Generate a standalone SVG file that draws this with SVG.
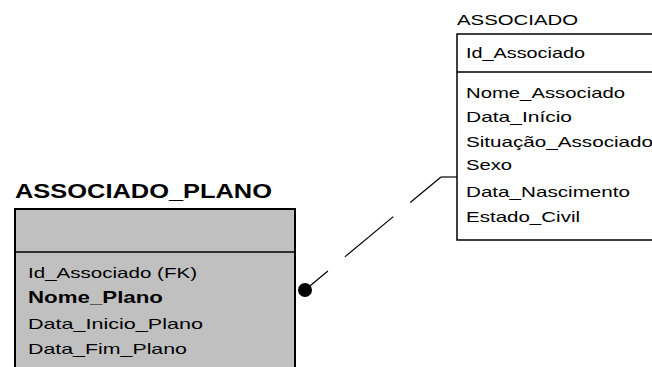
<svg xmlns="http://www.w3.org/2000/svg" width="652" height="367" viewBox="0 0 652 367">
<style>
text{font-family:"Liberation Sans",Arial,sans-serif;fill:#000}
.r{font-size:15px}
.t{font-size:14px}
.b{font-weight:bold}
.box{stroke:#000;stroke-width:1.5}
</style>
<rect width="652" height="367" fill="#fff"/>
<g id="connectors">
<path d="M441,177 L305,290" fill="none" stroke="#000" stroke-width="1.2" stroke-dasharray="40 22 63 22 60"/>
<path d="M441,177 L457,177" fill="none" stroke="#000" stroke-width="1.2"/>
<circle cx="305" cy="290" r="7" fill="#000"/>
</g>
<g id="associado">
<text class="t" x="457" y="25" textLength="121" lengthAdjust="spacingAndGlyphs">ASSOCIADO</text>
<rect class="box" x="457" y="34" width="205" height="206" fill="#fff"/>
<line class="box" x1="457" y1="72" x2="652" y2="72"/>
<text class="r" x="466" y="58" textLength="119" lengthAdjust="spacingAndGlyphs">Id_Associado</text>
<text class="r" x="466" y="98" textLength="159" lengthAdjust="spacingAndGlyphs">Nome_Associado</text>
<text class="r" x="466" y="122" textLength="106" lengthAdjust="spacingAndGlyphs">Data_Início</text>
<text class="r" x="466" y="147" textLength="187" lengthAdjust="spacingAndGlyphs">Situação_Associado</text>
<text class="r" x="466" y="170" textLength="46" lengthAdjust="spacingAndGlyphs">Sexo</text>
<text class="r" x="466" y="197" textLength="164" lengthAdjust="spacingAndGlyphs">Data_Nascimento</text>
<text class="r" x="466" y="222" textLength="114" lengthAdjust="spacingAndGlyphs">Estado_Civil</text>
</g>
<g id="associado_plano">
<text class="b" style="font-size:20px" x="15" y="198" textLength="257" lengthAdjust="spacingAndGlyphs">ASSOCIADO_PLANO</text>
<rect x="15" y="209" width="280" height="170" fill="#c0c0c0" stroke="#000" stroke-width="2"/>
<line x1="15" y1="252" x2="295" y2="252" stroke="#000" stroke-width="1.5"/>
<text class="r" x="28" y="278" textLength="169" lengthAdjust="spacingAndGlyphs">Id_Associado (FK)</text>
<text class="b" style="font-size:17px" x="28" y="303" textLength="135" lengthAdjust="spacingAndGlyphs">Nome_Plano</text>
<text class="r" x="28" y="329" textLength="175" lengthAdjust="spacingAndGlyphs">Data_Inicio_Plano</text>
<text class="r" x="28" y="354" textLength="159" lengthAdjust="spacingAndGlyphs">Data_Fim_Plano</text>
</g>
</svg>
